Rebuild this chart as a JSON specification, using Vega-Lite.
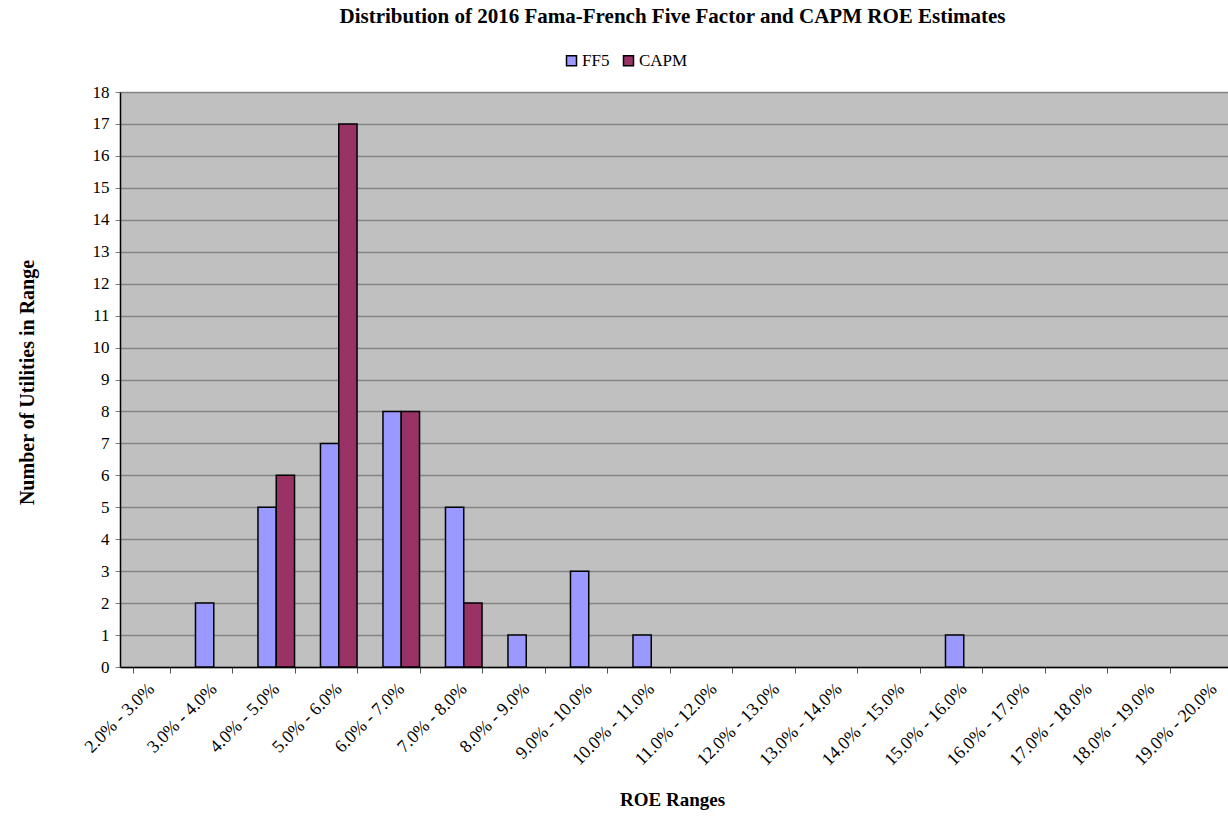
{
  "$schema": "https://vega.github.io/schema/vega-lite/v6.json",
  "autosize": "none",
  "width": 1125,
  "height": 575,
  "padding": {"left": 120, "top": 92, "right": 0, "bottom": 150},
  "background": "white",
  "title": {
    "text": "Distribution of 2016 Fama-French Five Factor and CAPM ROE Estimates",
    "font": "Liberation Serif",
    "fontSize": 21,
    "fontWeight": "bold",
    "color": "black",
    "anchor": "middle",
    "frame": "group",
    "dx": -10,
    "offset": 25
  },
  "config": {
    "view": {"fill": "#C0C0C0", "stroke": null},
    "font": "Liberation Serif"
  },
  "data": {
    "values": [
      {"range": "3.0% - 4.0%", "series": "FF5", "count": 2},
      {"range": "4.0% - 5.0%", "series": "FF5", "count": 5},
      {"range": "4.0% - 5.0%", "series": "CAPM", "count": 6},
      {"range": "5.0% - 6.0%", "series": "FF5", "count": 7},
      {"range": "5.0% - 6.0%", "series": "CAPM", "count": 17},
      {"range": "6.0% - 7.0%", "series": "FF5", "count": 8},
      {"range": "6.0% - 7.0%", "series": "CAPM", "count": 8},
      {"range": "7.0% - 8.0%", "series": "FF5", "count": 5},
      {"range": "7.0% - 8.0%", "series": "CAPM", "count": 2},
      {"range": "8.0% - 9.0%", "series": "FF5", "count": 1},
      {"range": "9.0% - 10.0%", "series": "FF5", "count": 3},
      {"range": "10.0% - 11.0%", "series": "FF5", "count": 1},
      {"range": "15.0% - 16.0%", "series": "FF5", "count": 1}
    ]
  },
  "mark": {"type": "bar", "stroke": "black", "strokeWidth": 1.5},
  "encoding": {
    "x": {
      "field": "range",
      "type": "nominal",
      "sort": null,
      "scale": {
        "domain": ["2.0% - 3.0%", "3.0% - 4.0%", "4.0% - 5.0%", "5.0% - 6.0%", "6.0% - 7.0%", "7.0% - 8.0%", "8.0% - 9.0%", "9.0% - 10.0%", "10.0% - 11.0%", "11.0% - 12.0%", "12.0% - 13.0%", "13.0% - 14.0%", "14.0% - 15.0%", "15.0% - 16.0%", "16.0% - 17.0%", "17.0% - 18.0%", "18.0% - 19.0%", "19.0% - 20.0%"],
        "paddingInner": 0.415,
        "paddingOuter": 0.2075
      },
      "axis": {
        "title": "ROE Ranges",
        "titleFont": "Liberation Serif",
        "titleFontSize": 19,
        "titleFontWeight": "bold",
        "titleColor": "black",
        "titleX": 552,
        "titleY": 132,
        "titleAlign": "center",
        "titleBaseline": "middle",
        "labelFont": "Liberation Serif",
        "labelFontSize": 18,
        "labelColor": "black",
        "labelAngle": -45,
        "labelAlign": "right",
        "labelBaseline": "middle",
        "labelPadding": 13,
        "tickBand": "extent",
        "ticks": true,
        "tickColor": "#555555",
        "tickSize": 6,
        "domainColor": "black",
        "domainWidth": 1.5,
        "grid": false
      }
    },
    "xOffset": {"field": "series", "type": "nominal", "scale": {"domain": ["FF5", "CAPM"], "paddingInner": 0, "paddingOuter": 0}},
    "y": {
      "field": "count",
      "type": "quantitative",
      "scale": {"domain": [0, 18], "nice": false},
      "axis": {
        "title": "Number of Utilities in Range",
        "titleFont": "Liberation Serif",
        "titleFontSize": 20,
        "titleFontWeight": "bold",
        "titleColor": "black",
        "titleX": -93,
        "titleY": 290,
        "titleAngle": -90,
        "titleAlign": "center",
        "titleBaseline": "middle",
        "values": [0, 1, 2, 3, 4, 5, 6, 7, 8, 9, 10, 11, 12, 13, 14, 15, 16, 17, 18],
        "labelFont": "Liberation Serif",
        "labelFontSize": 17,
        "labelColor": "black",
        "labelPadding": 6,
        "tickColor": "#808080",
        "tickSize": 5,
        "domainColor": "black",
        "domainWidth": 1.5,
        "grid": true,
        "gridColor": "#858585",
        "gridWidth": 1.5
      }
    },
    "color": {
      "field": "series",
      "type": "nominal",
      "scale": {"domain": ["FF5", "CAPM"], "range": ["#9999FF", "#993366"]},
      "legend": {
        "title": null,
        "orient": "none",
        "direction": "horizontal",
        "legendX": 443,
        "legendY": -40,
        "symbolType": "square",
        "symbolSize": 100,
        "symbolStrokeColor": "black",
        "symbolStrokeWidth": 1.5,
        "symbolOpacity": 1,
        "labelFont": "Liberation Serif",
        "labelFontSize": 17,
        "labelColor": "black",
        "labelOffset": 2,
        "columnPadding": 10
      }
    }
  }
}
